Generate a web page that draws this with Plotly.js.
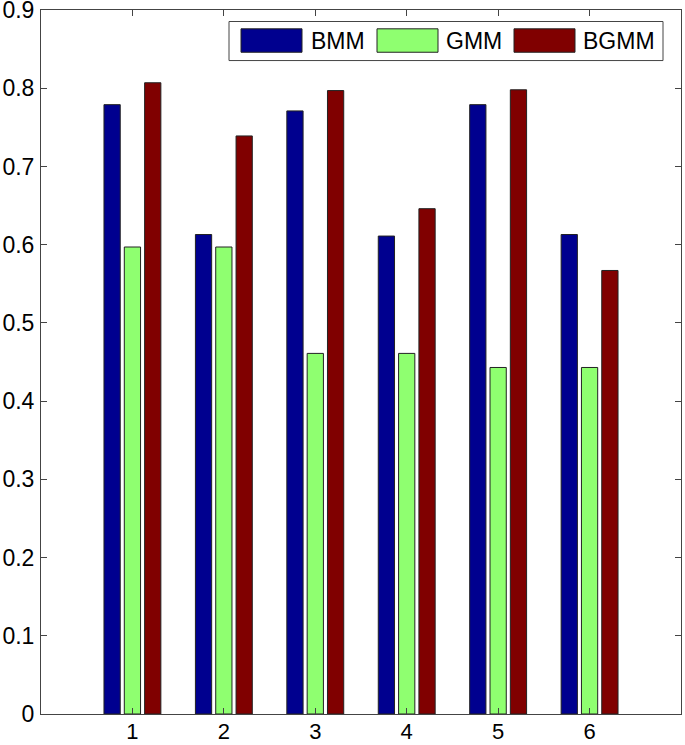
<!DOCTYPE html>
<html>
<head>
<meta charset="utf-8">
<script src="https://cdn.plot.ly/plotly-3.0.1.min.js"></script>
<style>
html,body{margin:0;padding:0;background:#fff;}
#chart{width:685px;height:745px;}
</style>
</head>
<body>
<div id="chart"></div>
<script>
var categories = [1, 2, 3, 4, 5, 6];
var seriesNames = ["BMM", "GMM", "BGMM"];
var bmm  = [0.779, 0.613, 0.771, 0.611, 0.779, 0.613];
var gmm  = [0.597, 0.597, 0.461, 0.461, 0.443, 0.443];
var bgmm = [0.807, 0.739, 0.797, 0.646, 0.798, 0.567];
var yTickVals = [0, 0.1, 0.2, 0.3, 0.4, 0.5, 0.6, 0.7, 0.8, 0.9];
var yTickText = ["0", "0.1", "0.2", "0.3", "0.4", "0.5", "0.6", "0.7", "0.8", "0.9"];
var colors = ["#00008F", "#8FFF70", "#800000"];

var FONT = "Liberation Sans, Arial, Helvetica, sans-serif";
var values = [bmm, gmm, bgmm];
var traces = values.map(function (v, i) {
  return {
    type: "bar",
    name: seriesNames[i],
    x: categories,
    y: v,
    marker: {color: colors[i], line: {color: "#222", width: 1}},
    showlegend: false,
    hoverinfo: "x+y+name"
  };
});

// custom MATLAB-style legend (box, swatches, labels) in paper coordinates
var L = 41, W = 640, B = 713.7, H = 703.2;
function px(x) { return (x - L) / W; }
function py(y) { return (B - y) / H; }
var shapes = [{
  type: "rect", xref: "paper", yref: "paper",
  x0: px(229), x1: px(663), y0: py(61), y1: py(22),
  line: {color: "#444", width: 1}, fillcolor: "#fff", layer: "above"
}];
var annotations = [];
var swX = [241, 377, 514];
var txX = [309, 444, 581];
for (var i = 0; i < 3; i++) {
  shapes.push({
    type: "rect", xref: "paper", yref: "paper",
    x0: px(swX[i]), x1: px(swX[i] + 61), y0: py(52.7), y1: py(29.3),
    line: {color: "#222", width: 1}, fillcolor: colors[i], layer: "above"
  });
  annotations.push({
    xref: "paper", yref: "paper", x: px(txX[i]), y: py(41),
    xanchor: "left", yanchor: "middle", showarrow: false,
    text: seriesNames[i], font: {family: FONT, size: 23, color: "#000"}
  });
}

var layout = {
  width: 685, height: 745,
  margin: {l: 41, r: 4, t: 10, b: 31, pad: 0},
  paper_bgcolor: "#fff", plot_bgcolor: "#fff",
  barmode: "group", bargap: 0.3333, bargroupgap: 0.2,
  font: {family: FONT, size: 23, color: "#000"},
  xaxis: {
    range: [0, 7], tickvals: categories, ticktext: categories.map(String),
    ticks: "inside", ticklen: 6, tickcolor: "#444", tickwidth: 1,
    showline: true, linecolor: "#444", linewidth: 1, mirror: "ticks",
    showgrid: false, zeroline: false, fixedrange: true,
    tickfont: {family: FONT, size: 22, color: "#000"},
    ticklabelstandoff: -2, ticklabeloverflow: "allow"
  },
  yaxis: {
    range: [0, 0.9], tickvals: yTickVals, ticktext: yTickText,
    ticks: "inside", ticklen: 6, tickcolor: "#444", tickwidth: 1,
    showline: true, linecolor: "#444", linewidth: 1, mirror: "ticks",
    showgrid: false, zeroline: false, fixedrange: true,
    tickfont: {family: FONT, size: 23, color: "#000"},
    ticklabelstandoff: 1, ticklabeloverflow: "allow"
  },
  shapes: shapes,
  annotations: annotations
};

Plotly.newPlot("chart", traces, layout, {displayModeBar: false, staticPlot: true});
</script>
</body>
</html>
